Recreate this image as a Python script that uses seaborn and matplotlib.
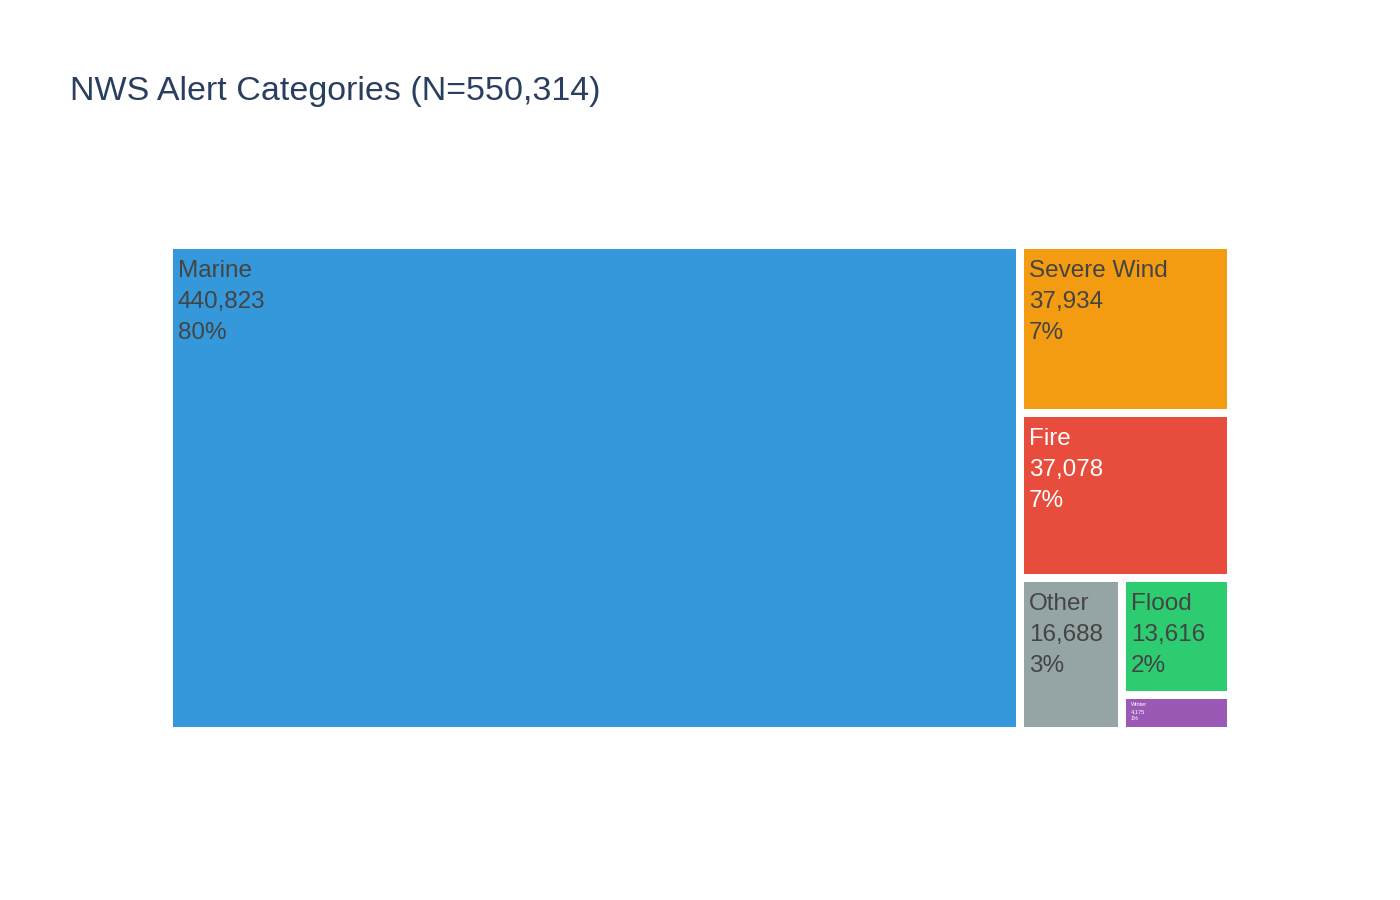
import matplotlib
matplotlib.use("Agg")
import matplotlib.pyplot as plt
from matplotlib.patches import Rectangle
import seaborn as sns

categories = ["Marine", "Severe Wind", "Fire", "Other", "Flood", "Winter"]
counts = [440823, 37934, 37078, 16688, 13616, 4175]
colors = ["#3498db", "#f39c12", "#e74c3c", "#95a5a6", "#2ecc71", "#9b59b6"]
text_colors = ["#444444", "#444444", "#ffffff", "#444444", "#444444", "#ffffff"]
title = "NWS Alert Categories (N=550,314)"

sns.set_theme(style="white")
plt.rcParams['font.family'] = ['Liberation Sans', 'DejaVu Sans']


def squarify(values, x0, y0, x1, y1, ratio=1.0):
    rects = []
    n = len(values)
    i0 = i1 = 0
    value = float(sum(values))
    while i0 < n:
        dx, dy = x1 - x0, y1 - y0
        s = values[i1]
        i1 += 1
        mn = mx = s
        alpha = max(dy / dx, dx / dy) / (value * ratio)
        beta = s * s * alpha
        min_ratio = max(mx / beta, beta / mn)
        while i1 < n:
            v = values[i1]
            s += v
            mn = min(mn, v)
            mx = max(mx, v)
            beta = s * s * alpha
            new_ratio = max(mx / beta, beta / mn)
            if new_ratio > min_ratio:
                s -= v
                break
            min_ratio = new_ratio
            i1 += 1
        row = values[i0:i1]
        if dx < dy:  # dice: row along top, split horizontally
            yb = y0 + dy * s / value
            xx = x0
            for v in row:
                w = dx * v / s
                rects.append((xx, y0, xx + w, yb))
                xx += w
            y0 = yb
        else:  # slice: column at left, split vertically
            xb = x0 + dx * s / value
            yy = y0
            for v in row:
                h = dy * v / s
                rects.append((x0, yy, xb, yy + h))
                yy += h
            x0 = xb
        value -= s
        i0 = i1
    return rects


W, H = 1054.0, 478.0
P = 4.0  # half of inner padding
rects = squarify(counts, -P, -P, W + P, H + P)

fig = plt.figure(figsize=(14, 9), dpi=100)
ax = fig.add_axes([173 / 1400, 1 - 727 / 900, 1054 / 1400, 478 / 900])
ax.set_xlim(0, W)
ax.set_ylim(H, 0)
ax.axis("off")

total = sum(counts)
for (x0, y0, x1, y1), cat, cnt, col, tc in zip(rects, categories, counts, colors, text_colors):
    ex0, ey0, ex1, ey1 = x0 + P, y0 + P, x1 - P, y1 - P
    ax.add_patch(Rectangle((ex0, ey0), ex1 - ex0, ey1 - ey0, facecolor=col,
                           edgecolor="none"))
    h = ey1 - ey0
    scale = 1.0 if h >= 100 else h / 120.0
    fs = 17.5 * scale
    lines = [cat, f"{cnt:,}", f"{round(100 * cnt / total)}%"]
    for k, line in enumerate(lines):
        ax.text(ex0 + 5, ey0 + (28 + 31 * k) * scale, line,
                fontsize=fs, color=tc, ha="left", va="baseline")

fig.text(70 / 1400, 1 - 100 / 900, title, fontsize=24.5, color="#2a3f5f",
         ha="left", va="baseline")

fig.savefig("out.png", dpi=100, facecolor="white")
